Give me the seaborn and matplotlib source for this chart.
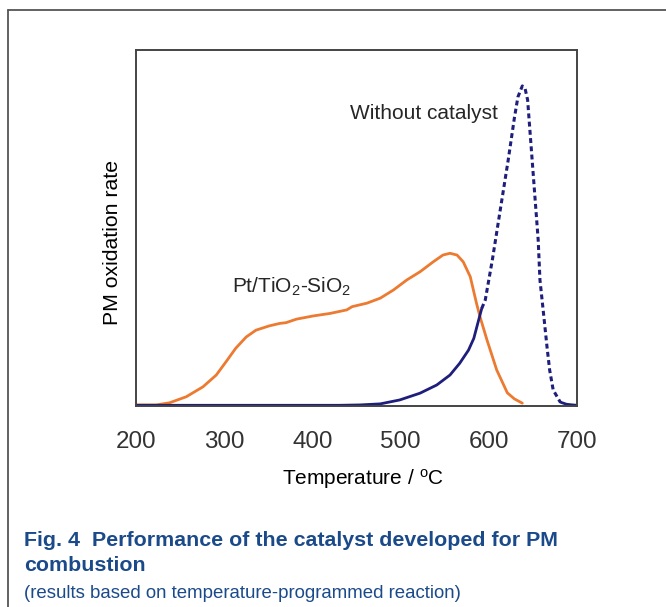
import matplotlib
matplotlib.use('Agg')
import numpy as np
import pandas as pd
import seaborn as sns
from matplotlib import pyplot as plt
from matplotlib.lines import Line2D

# Pt/TiO2-SiO2 catalyst curve (temperature in C, rate in % of axis height)
pt_temp = [200, 223, 238, 257, 276, 291, 302, 313, 325, 336, 351, 363, 370, 382,
           401, 420, 439, 445, 462, 477, 492, 507, 522, 537, 548, 556, 564, 571,
           579, 586, 590, 598, 609, 621, 629, 638]
pt_rate = [0.3, 0.3, 0.9, 2.6, 5.4, 8.7, 12.4, 16.2, 19.4, 21.3, 22.5, 23.2, 23.4, 24.4,
           25.3, 26.0, 27.0, 27.9, 28.9, 30.3, 32.6, 35.4, 37.7, 40.5, 42.4, 42.9, 42.4, 40.5,
           36.3, 28.9, 25.1, 18.5, 10.1, 3.7, 2.0, 0.8]

# without catalyst: solid part, dashed part, solid tail
blank_temp_a = [200, 300, 400, 431, 454, 477, 499, 522, 541, 556, 567, 577, 583, 588, 592]
blank_rate_a = [0.2, 0.2, 0.2, 0.2, 0.3, 0.6, 1.7, 3.6, 5.9, 8.7, 12.0, 15.7, 19.0, 23.7, 27.4]
blank_temp_b = [592, 596, 604, 613, 622, 629, 633, 638, 641, 644, 650, 656, 658,
                662, 666, 669, 673, 681]
blank_rate_b = [27.4, 29.8, 41.0, 55.1, 69.1, 80.9, 86.8, 89.9, 89.3, 86.0, 66.3, 46.6, 35.4,
                26.1, 16.6, 10.1, 4.5, 1.1]
blank_temp_c = [681, 688, 695, 700]
blank_rate_c = [1.1, 0.5, 0.3, 0.2]

x_ticks = [200, 300, 400, 500, 600, 700]

orange = '#EC7A30'
navy = '#1E1E7C'
cap_blue = '#1B4A8A'

sns.set_style('white')
plt.rcParams['font.family'] = ['Liberation Sans', 'DejaVu Sans']
plt.rcParams['mathtext.fontset'] = 'custom'
plt.rcParams['mathtext.rm'] = 'Liberation Sans'
plt.rcParams['mathtext.it'] = 'Liberation Sans:italic'

fig = plt.figure(figsize=(6.66, 6.07), dpi=100)
ax = fig.add_axes([136 / 666, 1 - 406 / 607, 441 / 666, 356 / 607])

sns.lineplot(x=pt_temp, y=pt_rate, ax=ax, color=orange, lw=2.0, sort=False, estimator=None)
sns.lineplot(x=blank_temp_a, y=blank_rate_a, ax=ax, color=navy, lw=2.0, sort=False, estimator=None)
sns.lineplot(x=blank_temp_b, y=blank_rate_b, ax=ax, color=navy, lw=2.2, sort=False,
             estimator=None, linestyle=(0, (1.6, 1.1)))
sns.lineplot(x=blank_temp_c, y=blank_rate_c, ax=ax, color=navy, lw=2.0, sort=False, estimator=None)

ax.set_xlim(200, 700)
ax.set_ylim(0, 100)
ax.set_xticks(x_ticks)
ax.set_xticklabels([str(t) for t in x_ticks])
ax.set_yticks([])
ax.tick_params(axis='x', direction='in', length=3, color='#cccccc', pad=18,
               labelsize=17.4, labelcolor='#333333')
for s in ax.spines.values():
    s.set_color('#444444')
    s.set_linewidth(1.4)

ax.set_xlabel('Temperature / $^{\\mathrm{o}}$C', fontsize=15, color='black')
ax.xaxis.set_label_coords(0.515, -0.17)
ax.set_ylabel('PM oxidation rate', fontsize=15.3, color='black')
ax.yaxis.set_label_coords(-0.032, 0.46)

ax.text(526, 82.3, 'Without catalyst', fontsize=15, ha='center', va='center')
ax.text(377, 33.4, 'Pt/TiO$_2$-SiO$_2$', fontsize=15, ha='center', va='center')

# outer frame (top and left edges)
fig.add_artist(Line2D([8 / 666, 8 / 666], [0, 1 - 10 / 607], color='#555555', lw=1.3))
fig.add_artist(Line2D([8 / 666, 1], [1 - 10 / 607, 1 - 10 / 607], color='#555555', lw=1.3))

fig.text(24 / 666, 1 - 546 / 607, 'Fig. 4  Performance of the catalyst developed for PM',
         fontsize=15.4, fontweight='bold', color=cap_blue, va='baseline')
fig.text(24 / 666, 1 - 571 / 607, 'combustion',
         fontsize=15.4, fontweight='bold', color=cap_blue, va='baseline')
fig.text(24 / 666, 1 - 598 / 607, '(results based on temperature-programmed reaction)',
         fontsize=13.4, color=cap_blue, va='baseline')

fig.savefig('out.png', dpi=100)
